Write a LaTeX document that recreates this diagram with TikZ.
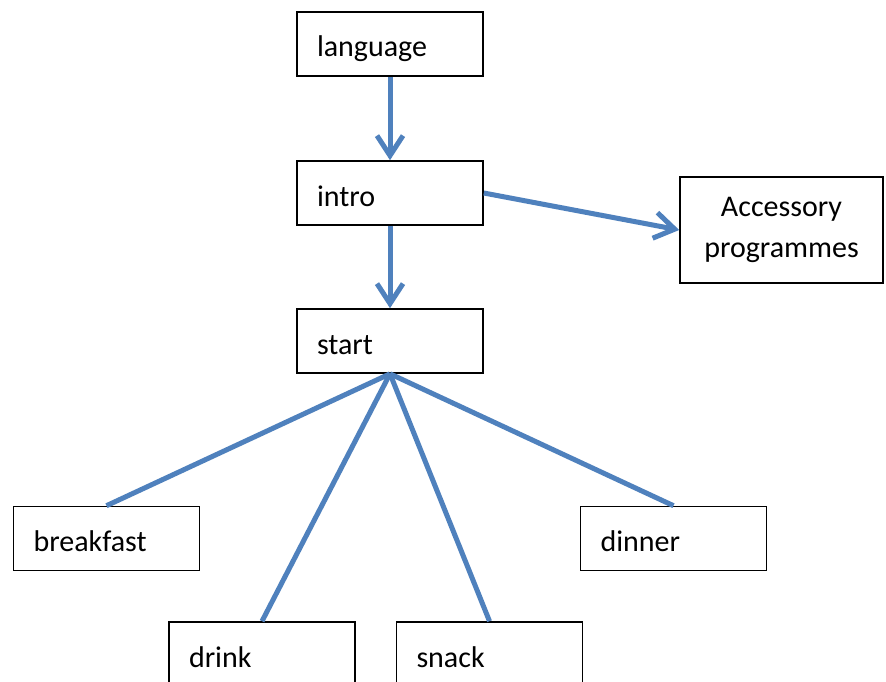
\documentclass[tikz,border=0pt]{standalone}
\usepackage{fontspec}
\setmainfont{Carlito}
\usetikzlibrary{arrows.meta}
\definecolor{linkblue}{HTML}{4F81BD}
\tikzset{
  box/.style={draw=black, line width=1.6pt, fill=white, minimum height=64pt,
    inner xsep=20pt, inner ysep=0pt, text width=146pt, text height=27pt, text depth=1pt,
    align=left, font=\fontsize{30}{34}\selectfont},
  accbox/.style={draw=black, line width=1.6pt, fill=white, minimum width=203pt,
    minimum height=106pt, align=center, font=\fontsize{30}{41}\selectfont},
  link/.style={draw=linkblue, line width=5pt},
  flow/.style={link, -{Straight Barb[length=20pt, width=26pt, line width=5pt]}}
}
\begin{document}
\begin{tikzpicture}[x=1pt, y=-1pt]
  \useasboundingbox (0,0) rectangle (886,682);
  \clip (0,0) rectangle (886,682);
  \fill[white] (0,0) rectangle (886,682);

  % main column
  \node[box] (language) at (390,44) {language};
  \node[box] (intro) at (390,193) {intro};
  \node[box] (start) at (390,341) {start};
  \node[accbox] (accessory) at (781.5,230) {Accessory\\programmes};

  % meal boxes
  \node[box] (breakfast) at (106.5,538.5) {breakfast};
  \node[box] (dinner) at (673.5,538.5) {dinner};
  \node[box] (drink) at (262,654) {drink};
  \node[box] (snack) at (489.5,654) {snack};

  % connectors
  \draw[flow] (language.south) -- (intro.north);
  \draw[flow] (intro.south) -- (start.north);
  \draw[flow] (intro.east) -- (accessory.west);
  \draw[link] (start.south) -- (breakfast.north);
  \draw[link] (start.south) -- (drink.north);
  \draw[link] (start.south) -- (snack.north);
  \draw[link] (start.south) -- (dinner.north);
\end{tikzpicture}
\end{document}
